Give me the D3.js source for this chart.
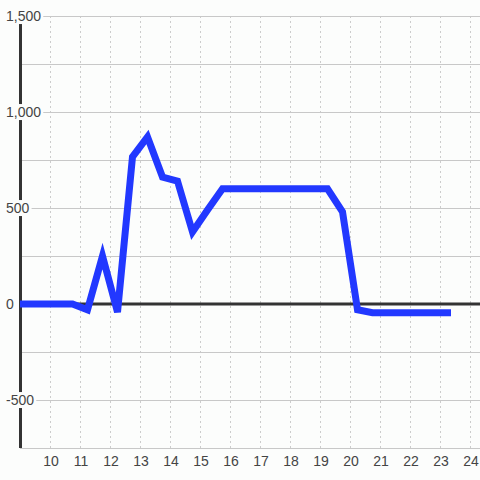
<!DOCTYPE html>
<html>
<head>
<meta charset="utf-8">
<script src="https://cdn.jsdelivr.net/npm/d3@7"></script>
<style>
  html, body { margin: 0; padding: 0; background: #fcfdfc; }
  svg { display: block; font-family: "Liberation Sans", Arial, sans-serif; }
</style>
</head>
<body>
<div id="chart"></div>
<script>
// chart data
const hours = [8.75, 9.25, 9.75, 10.25, 10.75, 11.25, 11.75, 12.25, 12.75, 13.25, 13.75,
    14.25, 14.75, 15.25, 15.75, 16.25, 16.75, 17.25, 17.75, 18.25, 18.75, 19.25,
    19.75, 20.25, 20.75, 21.25, 21.75, 22.25, 22.75, 23.25];
const values = [0, 0, 0, 0, 0, -30, 250, -42, 766, 870, 661,
    640, 375, 490, 600, 600, 600, 600, 600, 600, 600, 600,
    480, -30, -45, -45, -45, -45, -45, -45];
const xTicks = [10, 11, 12, 13, 14, 15, 16, 17, 18, 19, 20, 21, 22, 23, 24];
const yTicks = [1500, 1000, 500, 0, -500];
const yGrid = [1500, 1250, 1000, 750, 500, 250, -250, -500, -750];

const width = 480;
const height = 480;

const svg = d3.select("#chart")
    .append("svg")
    .attr("width", width)
    .attr("height", height);

const x = d3.scaleLinear().domain([9, 24 + 1 / 3]).range([20, 480]);
const y = d3.scaleLinear().domain([-750, 1500]).range([448, 16]);

// vertical dotted grid
svg.append("g")
    .selectAll("line")
    .data(xTicks)
    .enter()
    .append("line")
    .attr("x1", d => x(d) + 0.5)
    .attr("x2", d => x(d) + 0.5)
    .attr("y1", y(1500))
    .attr("y2", y(-750))
    .attr("stroke", "#cccccc")
    .attr("stroke-width", 1)
    .attr("stroke-dasharray", "2,3");

// horizontal grid
svg.append("g")
    .selectAll("line")
    .data(yGrid)
    .enter()
    .append("line")
    .attr("x1", x(9))
    .attr("x2", width)
    .attr("y1", d => y(d) + 0.5)
    .attr("y2", d => y(d) + 0.5)
    .attr("stroke", "#c8c8c8")
    .attr("stroke-width", 1);

// y axis line
svg.append("line")
    .attr("x1", x(9) + 0.5)
    .attr("x2", x(9) + 0.5)
    .attr("y1", y(1500))
    .attr("y2", y(-750))
    .attr("stroke", "#333333")
    .attr("stroke-width", 3);

// zero line
svg.append("line")
    .attr("x1", x(9))
    .attr("x2", width)
    .attr("y1", y(0))
    .attr("y2", y(0))
    .attr("stroke", "#333333")
    .attr("stroke-width", 3);

// the series
svg.append("clipPath")
    .attr("id", "plot-clip")
    .append("rect")
    .attr("x", x(9))
    .attr("y", 0)
    .attr("width", width - x(9))
    .attr("height", height);

const line = d3.line()
    .x((d, i) => x(hours[i]))
    .y(d => y(d));

svg.append("path")
    .datum(values)
    .attr("clip-path", "url(#plot-clip)")
    .attr("d", line)
    .attr("fill", "none")
    .attr("stroke", "#2238ff")
    .attr("stroke-width", 7)
    .attr("stroke-linejoin", "miter")
    .attr("stroke-linecap", "square");

// x tick labels
svg.append("g")
    .selectAll("text")
    .data(xTicks)
    .enter()
    .append("text")
    .attr("x", d => x(d) + 1)
    .attr("y", 466)
    .attr("text-anchor", "middle")
    .attr("font-size", 14)
    .attr("fill", "#444444")
    .text(d => d);

// y tick labels with a background box that cuts the axis and grid
const fmt = d3.format(",");
const yLabels = svg.append("g")
    .selectAll("g")
    .data(yTicks)
    .enter()
    .append("g");

const yText = yLabels.append("text")
    .attr("x", 6)
    .attr("y", d => y(d))
    .attr("dy", "0.36em")
    .attr("font-size", 14)
    .attr("fill", "#444444")
    .text(d => d === 0 ? "0" : fmt(d).replace("−", "-"));

yLabels.each(function() {
    const g = d3.select(this);
    const box = g.select("text").node().getBBox();
    g.insert("rect", "text")
        .attr("x", box.x - 2)
        .attr("y", box.y)
        .attr("width", box.width + 4)
        .attr("height", box.height)
        .attr("fill", "#fcfdfc");
});
</script>
</body>
</html>
